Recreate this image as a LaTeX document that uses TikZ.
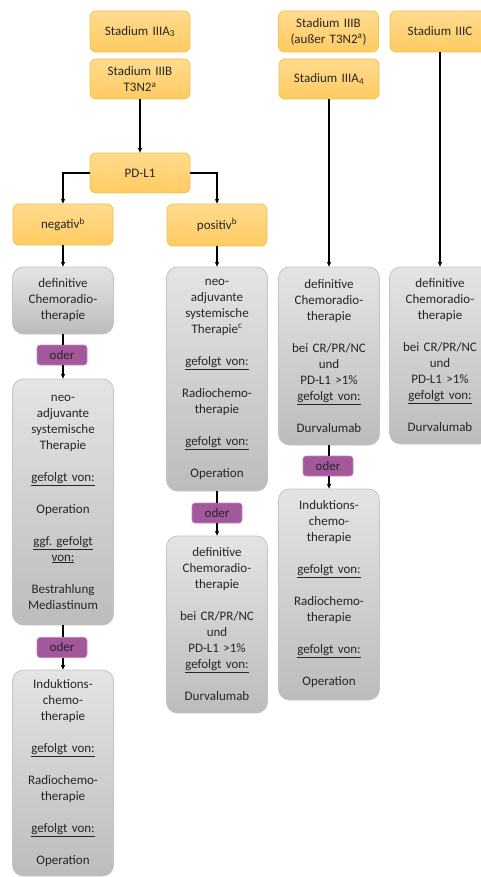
\documentclass[tikz,border=0pt]{standalone}
\usepackage{fontspec}
\setmainfont{Carlito}
\usetikzlibrary{arrows.meta}
\definecolor{txt}{HTML}{262626}
\definecolor{orT}{HTML}{FFDB8E}
\definecolor{orB}{HTML}{FFCB62}
\definecolor{orD}{HTML}{F3C250}
\definecolor{grT}{HTML}{E4E4E4}
\definecolor{grB}{HTML}{BCBCBC}
\definecolor{grD}{HTML}{C4C4C4}
\definecolor{odF}{HTML}{A4589C}
\definecolor{odD}{HTML}{C785BD}
\tikzset{
  base/.style={inner sep=0pt, align=center, text width=96pt, text=txt,
    font=\fontsize{13pt}{16pt}\selectfont},
  obox/.style={base, draw=orD, line width=0.8pt, top color=orT, bottom color=orB,
    rounded corners=6pt, minimum width=100pt},
  gbox/.style={base, draw=grD, line width=0.8pt, top color=grT, bottom color=grB,
    rounded corners=11pt, minimum width=101pt},
  odbox/.style={base, text width=46pt, draw=odD, line width=0.6pt, fill=odF,
    rounded corners=3pt, minimum width=50pt, minimum height=20pt, text=black!85},
  conn/.style={line width=1.8pt, black},
  arr/.style={conn, -{Stealth[length=5pt,width=4.5pt]}}
}
\newcommand{\gv}{\underline{gefolgt von:}}
\begin{document}
\begin{tikzpicture}[x=1pt,y=-1pt]
\useasboundingbox (0,0) rectangle (481,877);
% orange
\node[obox, minimum height=41pt] (s3a) at (140,31.5) {Stadium IIIA\textsubscript{3}};
\node[obox, minimum height=40pt] (s3b) at (140,79) {Stadium IIIB\\T3N2\textsuperscript{a}};
\node[obox, minimum height=40pt] (pdl) at (140,173) {PD-L1};
\node[obox, minimum height=41pt] (neg) at (63,224.5) {negativ\textsuperscript{b}};
\node[obox, minimum height=42pt] (pos) at (217,225) {positiv\textsuperscript{b}};
\node[obox, minimum height=41pt] (s3bx) at (328.5,31.5) {Stadium IIIB\\(außer T3N2\textsuperscript{a})};
\node[obox, minimum height=40pt] (s3a4) at (329,79) {Stadium IIIA\textsubscript{4}};
\node[obox, minimum height=41pt] (s3c) at (440,31.5) {Stadium IIIC};
% left column
\node[gbox, minimum height=67pt] (g1) at (63,300.5) {definitive\\Chemoradio-\\therapie};
\node[odbox] (o1) at (62,355) {oder};
\node[gbox, minimum height=246pt] (g2) at (63,502) {neo-\\adjuvante\\systemische\\Therapie\\[16pt]\gv\\[16pt]Operation\\[16pt]\underline{ggf.\ gefolgt}\\\underline{von:}\\[16pt]Bestrahlung\\Mediastinum};
\node[odbox] (o2) at (62,647.5) {oder};
\node[gbox, minimum height=206pt] (g3) at (63,773) {Induktions-\\chemo-\\therapie\\[16pt]\gv\\[16pt]Radiochemo-\\therapie\\[16pt]\gv\\[16pt]Operation};
% middle column
\node[gbox, minimum height=224pt] (m1) at (217,379) {neo-\\adjuvante\\systemische\\Therapie\textsuperscript{c}\\[16pt]\gv\\[16pt]Radiochemo-\\therapie\\[16pt]\gv\\[16pt]Operation};
\node[odbox] (o3) at (217,513) {oder};
\node[gbox, minimum height=177pt] (m2) at (217,624.5) {definitive\\Chemoradio-\\therapie\\[16pt]bei CR/PR/NC\\und\\PD-L1 >1\%\\\gv\\[16pt]Durvalumab};
% right columns
\node[gbox, minimum height=178pt] (r1) at (329,356) {definitive\\Chemoradio-\\therapie\\[16pt]bei CR/PR/NC\\und\\PD-L1 >1\%\\\gv\\[16pt]Durvalumab};
\node[odbox] (o4) at (328,466) {oder};
\node[gbox, minimum height=211pt] (r2) at (329,594.5) {Induktions-\\chemo-\\therapie\\[16pt]\gv\\[16pt]Radiochemo-\\therapie\\[16pt]\gv\\[16pt]Operation};
\node[gbox, minimum height=177pt] (c1) at (440,355.5) {definitive\\Chemoradio-\\therapie\\[16pt]bei CR/PR/NC\\und\\PD-L1 >1\%\\\gv\\[16pt]Durvalumab};
% connectors
\draw[arr] (s3b.south) -- (pdl.north);
\draw[arr] (pdl.west) -| (neg.north);
\draw[arr] (pdl.east) -| (pos.north);
\draw[arr] (neg.south) -- (g1.north);
\draw[arr] (pos.south) -- (m1.north);
\draw[arr] (s3a4.south) -- (r1.north);
\draw[arr] (s3c.south) -- (c1.north);
\draw[conn] (g1.south) -- (g1.south |- o1.north);
\draw[arr] (o1.south -| g1.south) -- (g2.north);
\draw[conn] (g2.south) -- (g2.south |- o2.north);
\draw[arr] (o2.south -| g2.south) -- (g3.north);
\draw[conn] (m1.south) -- (o3.north);
\draw[arr] (o3.south) -- (m2.north);
\draw[conn] (r1.south) -- (r1.south |- o4.north);
\draw[arr] (o4.south -| r1.south) -- (r2.north);
\end{tikzpicture}
\end{document}
